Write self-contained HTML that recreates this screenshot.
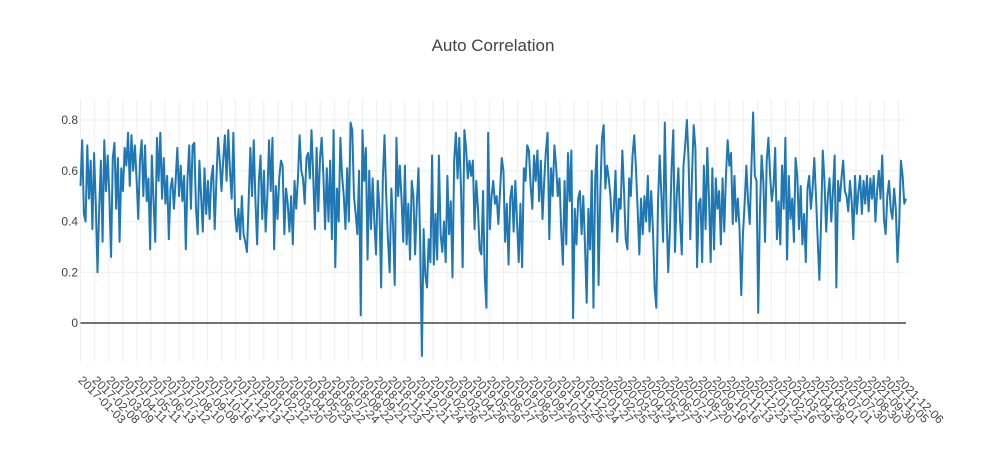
<!DOCTYPE html>
<html><head><meta charset="utf-8"><style>
html,body{margin:0;padding:0;background:#fff;}
svg{display:block;font-family:"Liberation Sans",Arial,sans-serif;}
</style></head><body>
<svg id="chart" width="986" height="450">
<text x="493" y="51" text-anchor="middle" font-size="17" fill="#444">Auto Correlation</text>
<g id="grid"></g>
<g id="yaxis"></g>
<g id="xaxis"></g>
<g id="series"></g>
</svg>
<script>
const values = [0.54,0.72,0.43,0.40,0.70,0.49,0.64,0.37,0.67,0.47,0.20,0.45,0.64,0.32,0.72,0.52,0.66,0.50,0.26,0.65,0.71,0.45,0.65,0.32,0.61,0.52,0.69,0.62,0.75,0.54,0.74,0.60,0.70,0.57,0.41,0.64,0.72,0.50,0.70,0.48,0.57,0.29,0.66,0.48,0.32,0.73,0.56,0.75,0.49,0.65,0.47,0.58,0.33,0.53,0.57,0.45,0.56,0.69,0.50,0.62,0.48,0.58,0.29,0.57,0.70,0.45,0.70,0.71,0.45,0.35,0.64,0.50,0.36,0.61,0.43,0.56,0.41,0.57,0.62,0.37,0.56,0.73,0.64,0.52,0.64,0.74,0.56,0.76,0.60,0.49,0.75,0.43,0.36,0.45,0.33,0.50,0.35,0.32,0.28,0.48,0.69,0.50,0.72,0.48,0.31,0.56,0.66,0.41,0.60,0.36,0.50,0.72,0.52,0.73,0.29,0.54,0.41,0.57,0.64,
0.62,0.35,0.53,0.47,0.36,0.50,0.31,0.56,0.45,0.57,0.74,0.60,0.57,0.47,0.65,0.67,0.57,0.76,0.58,0.37,0.69,0.44,0.65,0.73,0.58,0.37,0.61,0.40,0.64,0.33,0.76,0.22,0.53,0.40,0.73,0.58,0.50,0.37,0.61,0.40,0.79,0.76,0.50,0.43,0.35,0.60,0.03,0.76,0.56,0.69,0.25,0.60,0.37,0.57,0.40,0.27,0.56,0.45,0.14,0.57,0.74,0.50,0.33,0.20,0.53,0.39,0.15,0.73,0.50,0.62,0.49,0.32,0.62,0.31,0.47,0.25,0.56,0.50,0.27,0.47,0.61,0.31,-0.13,0.37,0.19,0.14,0.33,0.24,0.66,0.23,0.43,0.25,0.66,0.35,0.28,0.40,0.24,0.58,0.35,0.48,0.18,0.64,0.75,0.57,0.73,0.53,0.22,0.76,0.69,0.57,0.64,0.58,0.64,0.37,0.56,0.45,0.29,0.27,0.52,0.18,0.06,0.75,0.37,0.50,
0.56,0.47,0.50,0.39,0.52,0.65,0.60,0.32,0.47,0.23,0.49,0.54,0.36,0.56,0.40,0.24,0.47,0.22,0.61,0.56,0.70,0.68,0.54,0.45,0.66,0.56,0.68,0.48,0.64,0.41,0.56,0.68,0.75,0.33,0.61,0.50,0.70,0.62,0.50,0.57,0.37,0.23,0.56,0.31,0.67,0.48,0.68,0.02,0.45,0.31,0.49,0.52,0.35,0.50,0.31,0.08,0.45,0.29,0.60,0.06,0.56,0.70,0.15,0.50,0.73,0.78,0.53,0.62,0.57,0.50,0.36,0.45,0.60,0.32,0.49,0.45,0.68,0.52,0.33,0.29,0.57,0.50,0.66,0.74,0.61,0.45,0.27,0.49,0.35,0.50,0.40,0.58,0.36,0.52,0.37,0.14,0.06,0.48,0.66,0.50,0.32,0.79,0.44,0.20,0.37,0.61,0.76,0.28,0.50,0.61,0.40,0.27,0.62,0.70,0.80,0.64,0.33,0.58,0.78,0.69,0.22,0.47,0.49,
0.24,0.62,0.37,0.69,0.49,0.24,0.61,0.29,0.57,0.45,0.52,0.31,0.57,0.36,0.58,0.72,0.62,0.67,0.39,0.58,0.40,0.49,0.37,0.11,0.35,0.47,0.62,0.48,0.39,0.62,0.83,0.58,0.56,0.04,0.44,0.66,0.56,0.32,0.64,0.73,0.58,0.48,0.54,0.69,0.33,0.48,0.31,0.62,0.45,0.73,0.25,0.58,0.41,0.49,0.32,0.65,0.58,0.37,0.54,0.31,0.43,0.24,0.53,0.58,0.45,0.53,0.65,0.50,0.33,0.17,0.40,0.68,0.56,0.36,0.50,0.57,0.40,0.52,0.66,0.14,0.56,0.48,0.57,0.64,0.52,0.50,0.44,0.56,0.48,0.33,0.58,0.43,0.52,0.58,0.43,0.56,0.47,0.58,0.44,0.57,0.49,0.58,0.40,0.52,0.60,0.49,0.66,0.41,0.35,0.50,0.56,0.45,0.41,0.53,0.45,0.24,0.39,0.64,0.58,0.47,0.49];
const tickLabels = ["2017-01-03","2017-02-08","2017-03-09","2017-04-11","2017-05-11","2017-06-13","2017-07-12","2017-08-10","2017-09-08","2017-10-16","2017-11-14","2017-12-13","2018-01-12","2018-02-12","2018-03-20","2018-04-20","2018-05-23","2018-06-22","2018-07-24","2018-08-22","2018-09-21","2018-10-23","2018-11-21","2018-12-21","2019-01-24","2019-02-26","2019-03-27","2019-04-26","2019-05-29","2019-06-27","2019-07-29","2019-08-27","2019-09-26","2019-10-25","2019-11-25","2019-12-24","2020-01-27","2020-02-25","2020-03-25","2020-04-24","2020-05-27","2020-06-25","2020-07-17","2020-08-20","2020-09-18","2020-10-16","2020-11-13","2020-12-23","2021-01-22","2021-02-16","2021-03-29","2021-04-28","2021-06-01","2021-07-01","2021-07-30","2021-08-30","2021-09-30","2021-11-05","2021-12-06"];
const yTicks = [0,0.2,0.4,0.6,0.8];

const NS="http://www.w3.org/2000/svg";
const L=80.5,R=906,T=100,B=362;
function yS(v){return 323-v*253.75;}
function xS(i){return L+i*(R-L)/(values.length-1);}
function tX(i){return 80.5+i*14.1;}
function mk(tag,attrs,parent){const e=document.createElementNS(NS,tag);for(const k in attrs)e.setAttribute(k,attrs[k]);parent.appendChild(e);return e;}
const grid=document.getElementById('grid'),ya=document.getElementById('yaxis'),xa=document.getElementById('xaxis'),se=document.getElementById('series');
tickLabels.forEach((t,i)=>{
  const x=tX(i);
  const g=mk('line',{x1:x,x2:x,y1:T,y2:B,stroke:'#eee','stroke-width':1},grid);
  
  
  const tx=mk('text',{x:x-3,y:381,'font-size':12,fill:'#444',transform:`rotate(45 ${x-3} 381)`},xa);
  tx.textContent=t;
  
  
});
yTicks.forEach(v=>{
  const y=yS(v);
  const g=mk('line',{x1:L,x2:R,y1:y,y2:y,stroke:v===0?'#444':'#eee','stroke-width':v===0?1.5:1},grid);
  
  
  const tx=mk('text',{x:78,y:y+4,'font-size':12,fill:'#444','text-anchor':'end'},ya);
  tx.textContent=v===0?'0':v.toFixed(1);
  
  
});
let d='';
values.forEach((v,i)=>{d+=(i?'L':'M')+xS(i).toFixed(2)+','+yS(v).toFixed(2);});
const p=mk('path',{d:d,fill:'none',stroke:'#1f77b4','stroke-width':2,'stroke-linejoin':'round'},se);


</script>
</body></html>
